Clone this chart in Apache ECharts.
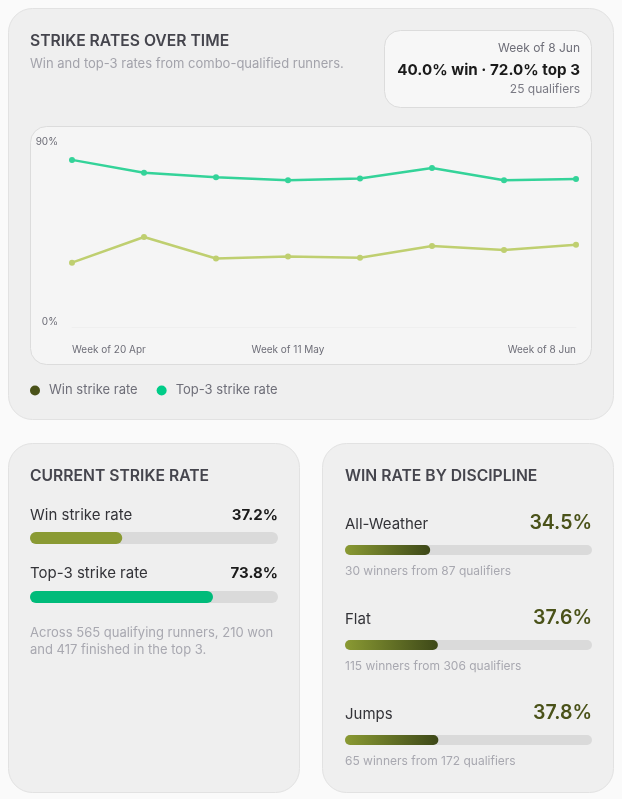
<!DOCTYPE html>
<html>
<head>
<meta charset="utf-8">
<script src="https://cdn.jsdelivr.net/npm/echarts@6/dist/echarts.min.js"></script>
<style>
html,body{margin:0;padding:0;background:#fafafa;}
#main{width:622px;height:799px;}
</style>
</head>
<body>
<div id="main"></div>
<script>
// ---- data ----
const weeks = ['20 Apr','27 Apr','4 May','11 May','18 May','25 May','1 Jun','8 Jun'];
const winRate = [31.3, 43.8, 33.3, 34.3, 33.7, 39.4, 37.5, 40.0];
const top3Rate = [81.3, 75.0, 72.9, 71.4, 72.2, 77.3, 71.4, 72.0];
const latestQualifiers = 25;
const yTicks = [0, 90];

const currentLabels = ['Win strike rate', 'Top-3 strike rate'];
const currentValues = [37.2, 73.8];
const totalRunners = 565, totalWon = 210, totalTop3 = 417;

const disciplines = ['All-Weather', 'Flat', 'Jumps'];
const discRates = [34.5, 37.6, 37.8];
const discWinners = [30, 115, 65];
const discQualifiers = [87, 306, 172];

// ---- styles ----
const FONT = 'Inter, "Noto Sans", sans-serif';
const WIN_LINE = '#bfcf70';
const TOP3_LINE = '#34d399';
const WIN_DOT = '#4a5219';
const TOP3_DOT = '#00cc88';
const OLIVE_L = '#8a9a33';
const OLIVE_D = '#3d4818';

function txt(text, x, y, o) {
  o = o || {};
  return {
    type: 'text', z: 5,
    style: {
      text: text, x: x, y: y,
      fill: o.fill || '#333',
      fontSize: o.size || 13,
      fontWeight: o.weight || 400,
      fontFamily: FONT,
      textAlign: o.align || 'left',
      textVerticalAlign: 'middle'
    }
  };
}
function card(x, y, w, h, r, fill, stroke) {
  return { type: 'rect', z: 0, shape: {x: x, y: y, width: w, height: h, r: r},
    style: {fill: fill, stroke: stroke, lineWidth: 1} };
}

const last = weeks.length - 1;
const graphics = [
  card(8.5, 8.5, 605, 411, 24, '#efefef', '#e2e2e2'),
  card(8.5, 443.5, 291, 349, 24, '#efefef', '#e2e2e2'),
  card(322.5, 443.5, 291, 349, 24, '#efefef', '#e2e2e2'),
  card(384.5, 30.5, 207, 77, 16, '#f7f7f7', '#dcdcdc'),
  card(30.5, 126.5, 561, 238, 16, '#f5f5f5', '#dcdcdc'),
  txt('STRIKE RATES OVER TIME', 30, 41, {size: 15.7, weight: 600, fill: '#45454d'}),
  txt('Win and top-3 rates from combo-qualified runners.', 30, 64, {size: 13, fill: '#a3a3ab'}),
  txt('Week of ' + weeks[last], 580, 48, {size: 12, fill: '#6e6e78', align: 'right'}),
  txt(winRate[last].toFixed(1) + '% win \u00b7 ' + top3Rate[last].toFixed(1) + '% top 3', 580, 70, {size: 15.2, weight: 700, fill: '#1a1a1a', align: 'right'}),
  txt(latestQualifiers + ' qualifiers', 580, 89, {size: 12, fill: '#7a7a84', align: 'right'}),

  txt('CURRENT STRIKE RATE', 30, 476, {size: 15.7, weight: 600, fill: '#45454d'}),
  txt('WIN RATE BY DISCIPLINE', 345, 476, {size: 15.7, weight: 600, fill: '#45454d'}),
  txt('Across ' + totalRunners + ' qualifying runners, ' + totalWon + ' won', 30, 633, {size: 13, fill: '#a8a8b0'}),
  txt('and ' + totalTop3 + ' finished in the top 3.', 30, 650, {size: 13, fill: '#a8a8b0'})
];
const curY = [515, 573];
currentLabels.forEach(function (l, i) {
  graphics.push(txt(l, 30, curY[i], {size: 15, fill: '#333338'}));
  graphics.push(txt(currentValues[i].toFixed(1) + '%', 278, curY[i], {size: 15, weight: 700, fill: '#1a1a1a', align: 'right'}));
});
const discY = [524, 619, 714];
disciplines.forEach(function (d, i) {
  graphics.push(txt(d, 345, discY[i], {size: 15, fill: '#333338'}));
  graphics.push(txt(discRates[i].toFixed(1) + '%', 592, discY[i] - 1, {size: 19.5, weight: 600, fill: '#4a5219', align: 'right'}));
  graphics.push(txt(discWinners[i] + ' winners from ' + discQualifiers[i] + ' qualifiers', 345, discY[i] + 47, {size: 12, fill: '#a8a8b0'}));
});

const oliveGrad = new echarts.graphic.LinearGradient(0, 0, 1, 0, [
  {offset: 0, color: OLIVE_L}, {offset: 1, color: OLIVE_D}
]);

const option = {
  animation: false,
  backgroundColor: '#fafafa',
  textStyle: {fontFamily: FONT},
  graphic: graphics,
  legend: {
    left: 30, top: 384, padding: 0, icon: 'circle', itemWidth: 10, itemHeight: 10, itemGap: 19,
    textStyle: {fontSize: 13, color: '#6e6e78', fontFamily: FONT, padding: [0, 0, 0, 4]},
    data: [
      {name: 'Win strike rate', itemStyle: {color: WIN_DOT}},
      {name: 'Top-3 strike rate', itemStyle: {color: TOP3_DOT}}
    ]
  },
  grid: [
    {left: 72, right: 46, top: 142, bottom: 799 - 327},
    {left: 30, width: 248, top: 508.5, height: 118},
    {left: 345, width: 247, top: 502.5, height: 285}
  ],
  xAxis: [
    {gridIndex: 0, type: 'category', data: weeks, boundaryGap: false,
     axisLine: {lineStyle: {color: '#efefef'}}, axisTick: {show: false},
     axisLabel: {margin: 18, fontSize: 10, color: '#6e6e78', fontFamily: FONT,
       interval: function (i) { return i === 0 || i === 3 || i === last; },
       formatter: function (v) { return 'Week of ' + v; },
       alignMinLabel: 'left', alignMaxLabel: 'right'}},
    {gridIndex: 1, type: 'value', min: 0, max: 100, show: false},
    {gridIndex: 2, type: 'value', min: 0, max: 100, show: false}
  ],
  yAxis: [
    {gridIndex: 0, type: 'value', min: yTicks[0], max: yTicks[1], interval: yTicks[1] - yTicks[0],
     axisLine: {show: false}, axisTick: {show: false}, splitLine: {show: false},
     axisLabel: {margin: 14, fontSize: 10, color: '#6e6e78', fontFamily: FONT,
       formatter: '{value}%', verticalAlignMinLabel: 'bottom'}},
    {gridIndex: 1, type: 'category', data: currentLabels, inverse: true, show: false},
    {gridIndex: 2, type: 'category', data: disciplines, inverse: true, show: false}
  ],
  series: [
    {name: 'Win strike rate', type: 'line', xAxisIndex: 0, yAxisIndex: 0, data: winRate,
     symbol: 'circle', symbolSize: 6, lineStyle: {width: 2.5, color: WIN_LINE},
     itemStyle: {color: WIN_LINE}},
    {name: 'Top-3 strike rate', type: 'line', xAxisIndex: 0, yAxisIndex: 0, data: top3Rate,
     symbol: 'circle', symbolSize: 6, lineStyle: {width: 2.5, color: TOP3_LINE},
     itemStyle: {color: TOP3_LINE}},
    {type: 'bar', xAxisIndex: 1, yAxisIndex: 1, barWidth: 12,
     showBackground: true, backgroundStyle: {color: '#dadada', borderRadius: 6},
     data: currentValues.map(function (v, i) {
       return {value: v, itemStyle: {color: i === 0 ? OLIVE_L : '#00bb7a', borderRadius: 6}};
     })},
    {type: 'bar', xAxisIndex: 2, yAxisIndex: 2, barWidth: 10,
     showBackground: true, backgroundStyle: {color: '#dadada', borderRadius: 5},
     itemStyle: {color: oliveGrad, borderRadius: 5},
     data: discRates}
  ]
};

const chart = echarts.init(document.getElementById('main'), null, {renderer: 'canvas'});
chart.setOption(option);
</script>
</body>
</html>
